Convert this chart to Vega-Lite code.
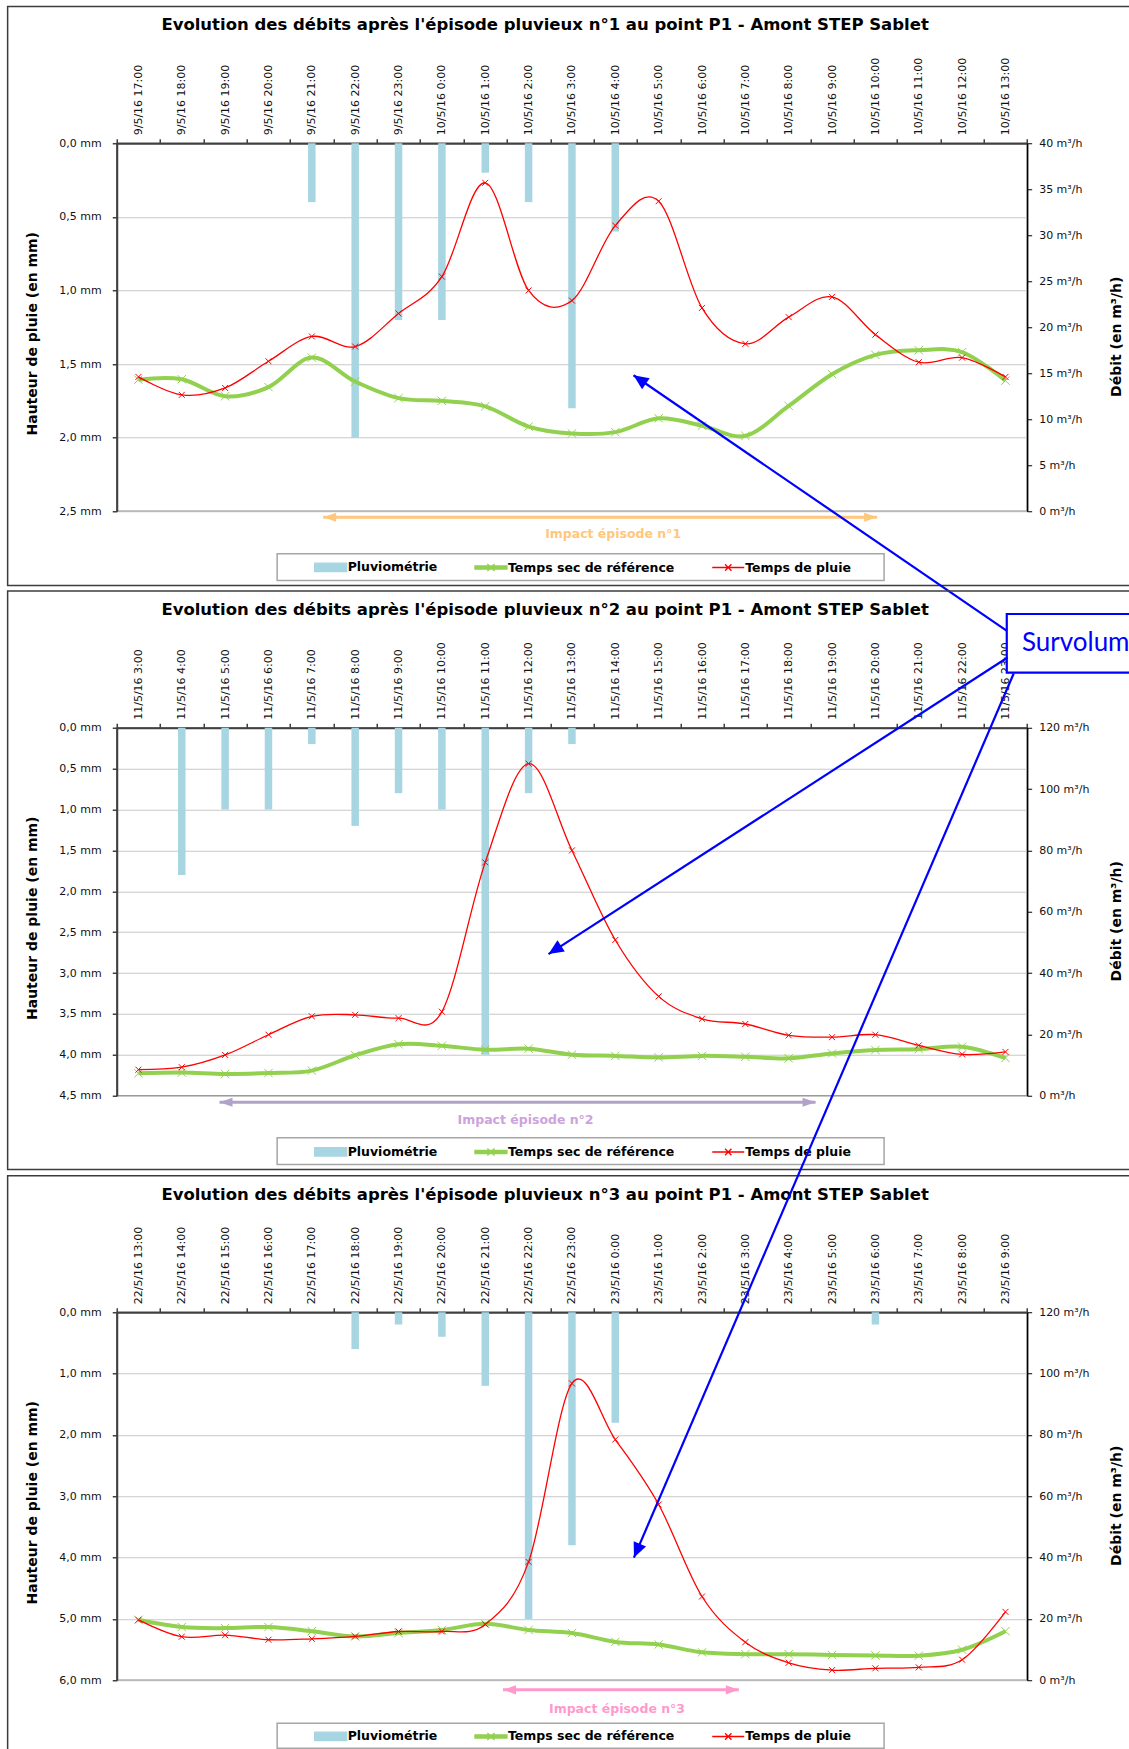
{
  "$schema": "https://vega.github.io/schema/vega-lite/v6.json",
  "padding": {"left": 5.75, "top": 4.25, "right": 0, "bottom": 0},
  "background": "white",
  "spacing": 216.5,
  "bounds": "flush",
  "datasets": {
    "p1": [
      {"i": 0, "t": "9/5/16 17:00", "rain": 0, "sec": 14.3, "pluie": 14.6},
      {"i": 1, "t": "9/5/16 18:00", "rain": 0, "sec": 14.35, "pluie": 12.65},
      {"i": 2, "t": "9/5/16 19:00", "rain": 0, "sec": 12.5, "pluie": 13.4},
      {"i": 3, "t": "9/5/16 20:00", "rain": 0, "sec": 13.5, "pluie": 16.3},
      {"i": 4, "t": "9/5/16 21:00", "rain": 0.4, "sec": 16.7, "pluie": 19.0},
      {"i": 5, "t": "9/5/16 22:00", "rain": 2.0, "sec": 14.1, "pluie": 17.9},
      {"i": 6, "t": "9/5/16 23:00", "rain": 1.2, "sec": 12.3, "pluie": 21.5},
      {"i": 7, "t": "10/5/16 0:00", "rain": 1.2, "sec": 12.0, "pluie": 25.5},
      {"i": 8, "t": "10/5/16 1:00", "rain": 0.2, "sec": 11.4, "pluie": 35.7},
      {"i": 9, "t": "10/5/16 2:00", "rain": 0.4, "sec": 9.2, "pluie": 24.0},
      {"i": 10, "t": "10/5/16 3:00", "rain": 1.8, "sec": 8.45, "pluie": 22.9},
      {"i": 11, "t": "10/5/16 4:00", "rain": 0.6, "sec": 8.6, "pluie": 31.05},
      {"i": 12, "t": "10/5/16 5:00", "rain": 0, "sec": 10.1, "pluie": 33.7},
      {"i": 13, "t": "10/5/16 6:00", "rain": 0, "sec": 9.3, "pluie": 22.1},
      {"i": 14, "t": "10/5/16 7:00", "rain": 0, "sec": 8.2, "pluie": 18.2},
      {"i": 15, "t": "10/5/16 8:00", "rain": 0, "sec": 11.45, "pluie": 21.1},
      {"i": 16, "t": "10/5/16 9:00", "rain": 0, "sec": 14.9, "pluie": 23.3},
      {"i": 17, "t": "10/5/16 10:00", "rain": 0, "sec": 17.0, "pluie": 19.2},
      {"i": 18, "t": "10/5/16 11:00", "rain": 0, "sec": 17.5, "pluie": 16.2},
      {"i": 19, "t": "10/5/16 12:00", "rain": 0, "sec": 17.3, "pluie": 16.7},
      {"i": 20, "t": "10/5/16 13:00", "rain": 0, "sec": 14.2, "pluie": 14.6}
    ],
    "p2": [
      {"i": 0, "t": "11/5/16 3:00", "rain": 0, "sec": 7.3, "pluie": 8.5},
      {"i": 1, "t": "11/5/16 4:00", "rain": 1.8, "sec": 7.55, "pluie": 9.3},
      {"i": 2, "t": "11/5/16 5:00", "rain": 1.0, "sec": 7.1, "pluie": 13.3},
      {"i": 3, "t": "11/5/16 6:00", "rain": 1.0, "sec": 7.4, "pluie": 19.9},
      {"i": 4, "t": "11/5/16 7:00", "rain": 0.2, "sec": 8.2, "pluie": 25.9},
      {"i": 5, "t": "11/5/16 8:00", "rain": 1.2, "sec": 13.2, "pluie": 26.4},
      {"i": 6, "t": "11/5/16 9:00", "rain": 0.8, "sec": 16.8, "pluie": 25.3},
      {"i": 7, "t": "11/5/16 10:00", "rain": 1.0, "sec": 16.3, "pluie": 27.4},
      {"i": 8, "t": "11/5/16 11:00", "rain": 4.0, "sec": 15.0, "pluie": 76.1},
      {"i": 9, "t": "11/5/16 12:00", "rain": 0.8, "sec": 15.35, "pluie": 108.3},
      {"i": 10, "t": "11/5/16 13:00", "rain": 0.2, "sec": 13.4, "pluie": 80.0},
      {"i": 11, "t": "11/5/16 14:00", "rain": 0, "sec": 13.0, "pluie": 50.8},
      {"i": 12, "t": "11/5/16 15:00", "rain": 0, "sec": 12.5, "pluie": 32.4},
      {"i": 13, "t": "11/5/16 16:00", "rain": 0, "sec": 13.0, "pluie": 25.1},
      {"i": 14, "t": "11/5/16 17:00", "rain": 0, "sec": 12.7, "pluie": 23.4},
      {"i": 15, "t": "11/5/16 18:00", "rain": 0, "sec": 12.2, "pluie": 19.7},
      {"i": 16, "t": "11/5/16 19:00", "rain": 0, "sec": 13.8, "pluie": 19.1},
      {"i": 17, "t": "11/5/16 20:00", "rain": 0, "sec": 14.9, "pluie": 19.9},
      {"i": 18, "t": "11/5/16 21:00", "rain": 0, "sec": 15.2, "pluie": 16.4},
      {"i": 19, "t": "11/5/16 22:00", "rain": 0, "sec": 16.0, "pluie": 13.5},
      {"i": 20, "t": "11/5/16 23:00", "rain": 0, "sec": 12.3, "pluie": 14.3}
    ],
    "p3": [
      {"i": 0, "t": "22/5/16 13:00", "rain": 0, "sec": 19.7, "pluie": 19.7},
      {"i": 1, "t": "22/5/16 14:00", "rain": 0, "sec": 17.35, "pluie": 14.2},
      {"i": 2, "t": "22/5/16 15:00", "rain": 0, "sec": 17.0, "pluie": 14.7},
      {"i": 3, "t": "22/5/16 16:00", "rain": 0, "sec": 17.35, "pluie": 13.2},
      {"i": 4, "t": "22/5/16 17:00", "rain": 0, "sec": 16.0, "pluie": 13.5},
      {"i": 5, "t": "22/5/16 18:00", "rain": 0.6, "sec": 14.3, "pluie": 14.3},
      {"i": 6, "t": "22/5/16 19:00", "rain": 0.2, "sec": 15.4, "pluie": 15.9},
      {"i": 7, "t": "22/5/16 20:00", "rain": 0.4, "sec": 16.4, "pluie": 15.9},
      {"i": 8, "t": "22/5/16 21:00", "rain": 1.2, "sec": 18.4, "pluie": 18.2},
      {"i": 9, "t": "22/5/16 22:00", "rain": 5.0, "sec": 16.4, "pluie": 38.6},
      {"i": 10, "t": "22/5/16 23:00", "rain": 3.8, "sec": 15.4, "pluie": 96.8},
      {"i": 11, "t": "23/5/16 0:00", "rain": 1.8, "sec": 12.5, "pluie": 78.5},
      {"i": 12, "t": "23/5/16 1:00", "rain": 0, "sec": 11.65, "pluie": 57.3},
      {"i": 13, "t": "23/5/16 2:00", "rain": 0, "sec": 9.1, "pluie": 27.3},
      {"i": 14, "t": "23/5/16 3:00", "rain": 0, "sec": 8.5, "pluie": 12.4},
      {"i": 15, "t": "23/5/16 4:00", "rain": 0, "sec": 8.5, "pluie": 5.7},
      {"i": 16, "t": "23/5/16 5:00", "rain": 0, "sec": 8.25, "pluie": 3.3},
      {"i": 17, "t": "23/5/16 6:00", "rain": 0.2, "sec": 8.1, "pluie": 3.9},
      {"i": 18, "t": "23/5/16 7:00", "rain": 0, "sec": 8.0, "pluie": 4.2},
      {"i": 19, "t": "23/5/16 8:00", "rain": 0, "sec": 9.95, "pluie": 6.7},
      {"i": 20, "t": "23/5/16 9:00", "rain": 0, "sec": 16.0, "pluie": 22.3}
    ]
  },
  "vconcat": [
    {
      "width": 910.4,
      "height": 368,
      "data": {"name": "p1"},
      "layer": [
        {
          "transform": [{"filter": "datum.rain > 0"}],
          "mark": {"type": "bar", "width": 7.5},
          "encoding": {
            "x": {"field": "i", "type": "quantitative", "scale": {"domain": [-0.5, 20.5], "nice": false, "zero": false, "padding": 0},
              "axis": {"orient": "top", "values": [0,1,2,3,4,5,6,7,8,9,10,11,12,13,14,15,16,17,18,19,20],
                "labelExpr": "['9/5/16 17:00','9/5/16 18:00','9/5/16 19:00','9/5/16 20:00','9/5/16 21:00','9/5/16 22:00','9/5/16 23:00','10/5/16 0:00','10/5/16 1:00','10/5/16 2:00','10/5/16 3:00','10/5/16 4:00','10/5/16 5:00','10/5/16 6:00','10/5/16 7:00','10/5/16 8:00','10/5/16 9:00','10/5/16 10:00','10/5/16 11:00','10/5/16 12:00','10/5/16 13:00'][datum.value]",
                "labelAngle": -90, "labelAlign": "left", "labelBaseline": "middle", "labelPadding": 8.5, "ticks": false, "tickSize": 0, "domain": false, "grid": false, "title": null, "labelOverlap": false, "labelFlush": false, "labelFontSize": 11, "labelColor": "#111111"}},
            "y": {"field": "rain", "type": "quantitative", "scale": {"domain": [0, 2.5], "reverse": true, "nice": false, "zero": false},
              "axis": {"orient": "left", "values": [0, 0.5, 1, 1.5, 2, 2.5], "labelExpr": "replace(format(datum.value, '.1f'), '.', ',') + ' mm'",
                "grid": true, "gridColor": "#C8C8C8", "gridWidth": 1, "domain": true, "domainColor": "#404040", "domainWidth": 2,
                "ticks": true, "tickSize": 4.5, "tickColor": "#404040", "tickWidth": 1.5, "labelPadding": 11, "labelFontSize": 11, "labelColor": "#111111",
                "title": "Hauteur de pluie (en mm)", "titleFontSize": 14, "titleFontWeight": "bold", "titleColor": "#000000",
                "titleAngle": 270, "titleX": -84.6, "titleY": 190, "titleAlign": "center", "titleBaseline": "middle"}},
            "color": {"datum": "Pluviométrie", "type": "nominal",
              "scale": {"domain": ["Pluviométrie", "Temps sec de référence", "Temps de pluie"], "range": ["#A8D5E2", "#92D050", "#FF0000"]},
              "legend": {"orient": "none", "legendX": 196.9, "legendY": 407, "direction": "horizontal", "columns": 3, "columnPadding": 34.3,
                "labelOffset": 0, "symbolSize": 1024, "symbolStrokeWidth": 1.3, "padding": 0, "title": null, "labelFontSize": 12.5, "labelFontWeight": "bold", "labelColor": "#000000", "labelLimit": 400,
                "encode": {"symbols": {"update": {
                  "shape": {"signal": "datum.value === 'Pluviométrie' ? 'M-1,-0.26H1V0.26H-1Z' : (datum.value === 'Temps de pluie' ? 'M-1,0H1M-0.2,-0.2L0.2,0.2M-0.2,0.2L0.2,-0.2' : 'M-1,-0.1H1V0.1H-1ZM-0.22,-0.22L0.22,0.22M-0.22,0.22L0.22,-0.22')"},
                  "fill": {"signal": "datum.value === 'Pluviométrie' ? '#A8D5E2' : (datum.value === 'Temps de pluie' ? 'transparent' : '#92D050')"},
                  "stroke": {"signal": "datum.value === 'Pluviométrie' ? 'transparent' : (datum.value === 'Temps de pluie' ? '#FF0000' : '#92D050')"},
                  "size": {"value": 1024},
                  "opacity": {"value": 1}, "fillOpacity": {"value": 1}, "strokeOpacity": {"value": 1}}}}}}
          }
        },
        {
          "layer": [
            {
              "mark": {"type": "line", "interpolate": "cardinal", "strokeWidth": 4,
                "point": {"shape": "M-1,-1L1,1M-1,1L1,-1", "filled": false, "size": 70, "strokeWidth": 1, "opacity": 1}},
              "encoding": {
                "x": {"field": "i", "type": "quantitative", "scale": {"domain": [-0.5, 20.5], "nice": false, "zero": false, "padding": 0},
                  "axis": {"orient": "top", "values": [-0.5,0.5,1.5,2.5,3.5,4.5,5.5,6.5,7.5,8.5,9.5,10.5,11.5,12.5,13.5,14.5,15.5,16.5,17.5,18.5,19.5,20.5],
                    "labels": false, "ticks": true, "tickSize": 4.5, "tickColor": "#404040", "tickWidth": 1.5, "domain": true, "domainColor": "#404040", "domainWidth": 2, "grid": false, "title": null}},
                "y": {"field": "sec", "type": "quantitative", "scale": {"domain": [0, 40], "nice": false, "zero": false},
                  "axis": {"orient": "right", "values": [0,5,10,15,20,25,30,35,40], "labelExpr": "datum.value + ' m³/h'", "grid": false,
                    "domainColor": "#000000", "domainWidth": 1.5, "tickSize": 4.5, "tickColor": "#000000", "labelPadding": 7, "labelFontSize": 11, "labelColor": "#111111",
                    "title": "Débit (en m³/h)", "titleFontSize": 14, "titleFontWeight": "bold", "titleColor": "#000000",
                    "titleAngle": 270, "titleX": 89.6, "titleY": 193, "titleAlign": "center", "titleBaseline": "middle"}},
                "color": {"datum": "Temps sec de référence", "type": "nominal"}
              }
            },
            {
              "mark": {"type": "line", "interpolate": "cardinal", "strokeWidth": 1.3,
                "point": {"shape": "M-1,-1L1,1M-1,1L1,-1", "filled": false, "size": 36, "strokeWidth": 1, "opacity": 1}},
              "encoding": {
                "x": {"field": "i", "type": "quantitative"},
                "y": {"field": "pluie", "type": "quantitative"},
                "color": {"datum": "Temps de pluie", "type": "nominal"}
              }
            },
            {
              "data": {"values": [{}]},
              "mark": {"type": "rect", "fill": "transparent", "stroke": "#3C3C3C", "strokeWidth": 1.5},
              "encoding": {"x": {"datum": -3.017, "type": "quantitative"}, "x2": {"datum": 23.13}, "y": {"datum": 54.86, "type": "quantitative"}, "y2": {"datum": -8.08}}
            },
            {
              "data": {"values": [{}]},
              "mark": {"type": "rect", "fill": "transparent", "stroke": "#A6A6A6", "strokeWidth": 1.5},
              "encoding": {"x": {"datum": 3.2, "type": "quantitative"}, "x2": {"datum": 17.2}, "y": {"datum": -4.63, "type": "quantitative"}, "y2": {"datum": -7.53}}
            },
            {
              "data": {"values": [{}]},
              "mark": {"type": "rule", "color": "#FFC77D", "strokeWidth": 3},
              "encoding": {"x": {"datum": 4.26, "type": "quantitative"}, "x2": {"datum": 17.04}, "y": {"datum": -0.65, "type": "quantitative"}}
            },
            {
              "data": {"values": [{}]},
              "mark": {"type": "point", "shape": "M0,0L-0.35,1L0.35,1Z", "filled": true, "size": 676, "angle": 270, "color": "#FFC77D", "opacity": 1},
              "encoding": {"x": {"datum": 4.26, "type": "quantitative"}, "y": {"datum": -0.65, "type": "quantitative"}}
            },
            {
              "data": {"values": [{}]},
              "mark": {"type": "point", "shape": "M0,0L-0.35,1L0.35,1Z", "filled": true, "size": 676, "angle": 90, "color": "#FFC77D", "opacity": 1},
              "encoding": {"x": {"datum": 17.04, "type": "quantitative"}, "y": {"datum": -0.65, "type": "quantitative"}}
            },
            {
              "data": {"values": [{}]},
              "mark": {"type": "text", "fontSize": 12.5, "fontWeight": "bold", "color": "#FFC77D", "align": "center", "baseline": "alphabetic"},
              "encoding": {"x": {"datum": 10.95, "type": "quantitative"}, "y": {"datum": -2.93, "type": "quantitative"}, "text": {"value": "Impact épisode  n°1"}}
            },
            {
              "data": {"values": [{}]},
              "mark": {"type": "text", "fontSize": 16.5, "fontWeight": "bold", "color": "#000000", "align": "center", "baseline": "alphabetic"},
              "encoding": {"x": {"datum": 9.38, "type": "quantitative"}, "y": {"datum": 52.3, "type": "quantitative"}, "text": {"value": "Evolution des débits après l'épisode pluvieux n°1 au point P1 - Amont STEP Sablet"}}
            },
            {
              "data": {"values": [{}]},
              "mark": {"type": "rule", "color": "#0000FF", "strokeWidth": 2.2},
              "encoding": {"x": {"datum": 11.42, "type": "quantitative"}, "x2": {"datum": 20.05}, "y": {"datum": 14.78, "type": "quantitative"}, "y2": {"datum": -13.05}}
            },
            {
              "data": {"values": [{}]},
              "mark": {"type": "point", "shape": "M0,0L-0.45,1L0.45,1Z", "filled": true, "size": 900, "angle": 304.4, "color": "#0000FF", "opacity": 1},
              "encoding": {"x": {"datum": 11.42, "type": "quantitative"}, "y": {"datum": 14.78, "type": "quantitative"}}
            }
          ]
        }
      ],
      "resolve": {"scale": {"y": "independent"}, "axis": {"x": "independent"}}
    },
    {
      "width": 910.4,
      "height": 368,
      "data": {"name": "p2"},
      "layer": [
        {
          "transform": [{"filter": "datum.rain > 0"}],
          "mark": {"type": "bar", "width": 7.5},
          "encoding": {
            "x": {"field": "i", "type": "quantitative", "scale": {"domain": [-0.5, 20.5], "nice": false, "zero": false, "padding": 0},
              "axis": {"orient": "top", "values": [0,1,2,3,4,5,6,7,8,9,10,11,12,13,14,15,16,17,18,19,20],
                "labelExpr": "['11/5/16 3:00','11/5/16 4:00','11/5/16 5:00','11/5/16 6:00','11/5/16 7:00','11/5/16 8:00','11/5/16 9:00','11/5/16 10:00','11/5/16 11:00','11/5/16 12:00','11/5/16 13:00','11/5/16 14:00','11/5/16 15:00','11/5/16 16:00','11/5/16 17:00','11/5/16 18:00','11/5/16 19:00','11/5/16 20:00','11/5/16 21:00','11/5/16 22:00','11/5/16 23:00'][datum.value]",
                "labelAngle": -90, "labelAlign": "left", "labelBaseline": "middle", "labelPadding": 8.5, "ticks": false, "tickSize": 0, "domain": false, "grid": false, "title": null, "labelOverlap": false, "labelFlush": false, "labelFontSize": 11, "labelColor": "#111111"}},
            "y": {"field": "rain", "type": "quantitative", "scale": {"domain": [0, 4.5], "reverse": true, "nice": false, "zero": false},
              "axis": {"orient": "left", "values": [0, 0.5, 1, 1.5, 2, 2.5, 3, 3.5, 4, 4.5], "labelExpr": "replace(format(datum.value, '.1f'), '.', ',') + ' mm'",
                "grid": true, "gridColor": "#C8C8C8", "gridWidth": 1, "domain": true, "domainColor": "#404040", "domainWidth": 2,
                "ticks": true, "tickSize": 4.5, "tickColor": "#404040", "tickWidth": 1.5, "labelPadding": 11, "labelFontSize": 11, "labelColor": "#111111",
                "title": "Hauteur de pluie (en mm)", "titleFontSize": 14, "titleFontWeight": "bold", "titleColor": "#000000",
                "titleAngle": 270, "titleX": -84.6, "titleY": 190, "titleAlign": "center", "titleBaseline": "middle"}},
            "color": {"datum": "Pluviométrie", "type": "nominal",
              "scale": {"domain": ["Pluviométrie", "Temps sec de référence", "Temps de pluie"], "range": ["#A8D5E2", "#92D050", "#FF0000"]},
              "legend": {"orient": "none", "legendX": 196.9, "legendY": 407, "direction": "horizontal", "columns": 3, "columnPadding": 34.3,
                "labelOffset": 0, "symbolSize": 1024, "symbolStrokeWidth": 1.3, "padding": 0, "title": null, "labelFontSize": 12.5, "labelFontWeight": "bold", "labelColor": "#000000", "labelLimit": 400,
                "encode": {"symbols": {"update": {
                  "shape": {"signal": "datum.value === 'Pluviométrie' ? 'M-1,-0.26H1V0.26H-1Z' : (datum.value === 'Temps de pluie' ? 'M-1,0H1M-0.2,-0.2L0.2,0.2M-0.2,0.2L0.2,-0.2' : 'M-1,-0.1H1V0.1H-1ZM-0.22,-0.22L0.22,0.22M-0.22,0.22L0.22,-0.22')"},
                  "fill": {"signal": "datum.value === 'Pluviométrie' ? '#A8D5E2' : (datum.value === 'Temps de pluie' ? 'transparent' : '#92D050')"},
                  "stroke": {"signal": "datum.value === 'Pluviométrie' ? 'transparent' : (datum.value === 'Temps de pluie' ? '#FF0000' : '#92D050')"},
                  "size": {"value": 1024},
                  "opacity": {"value": 1}, "fillOpacity": {"value": 1}, "strokeOpacity": {"value": 1}}}}}}
          }
        },
        {
          "layer": [
            {
              "mark": {"type": "line", "interpolate": "cardinal", "strokeWidth": 4,
                "point": {"shape": "M-1,-1L1,1M-1,1L1,-1", "filled": false, "size": 70, "strokeWidth": 1, "opacity": 1}},
              "encoding": {
                "x": {"field": "i", "type": "quantitative", "scale": {"domain": [-0.5, 20.5], "nice": false, "zero": false, "padding": 0},
                  "axis": {"orient": "top", "values": [-0.5,0.5,1.5,2.5,3.5,4.5,5.5,6.5,7.5,8.5,9.5,10.5,11.5,12.5,13.5,14.5,15.5,16.5,17.5,18.5,19.5,20.5],
                    "labels": false, "ticks": true, "tickSize": 4.5, "tickColor": "#404040", "tickWidth": 1.5, "domain": true, "domainColor": "#404040", "domainWidth": 2, "grid": false, "title": null}},
                "y": {"field": "sec", "type": "quantitative", "scale": {"domain": [0, 120], "nice": false, "zero": false},
                  "axis": {"orient": "right", "values": [0,20,40,60,80,100,120], "labelExpr": "datum.value + ' m³/h'", "grid": false,
                    "domainColor": "#000000", "domainWidth": 1.5, "tickSize": 4.5, "tickColor": "#000000", "labelPadding": 7, "labelFontSize": 11, "labelColor": "#111111",
                    "title": "Débit (en m³/h)", "titleFontSize": 14, "titleFontWeight": "bold", "titleColor": "#000000",
                    "titleAngle": 270, "titleX": 89.6, "titleY": 193, "titleAlign": "center", "titleBaseline": "middle"}},
                "color": {"datum": "Temps sec de référence", "type": "nominal"}
              }
            },
            {
              "mark": {"type": "line", "interpolate": "cardinal", "strokeWidth": 1.3,
                "point": {"shape": "M-1,-1L1,1M-1,1L1,-1", "filled": false, "size": 36, "strokeWidth": 1, "opacity": 1}},
              "encoding": {
                "x": {"field": "i", "type": "quantitative"},
                "y": {"field": "pluie", "type": "quantitative"},
                "color": {"datum": "Temps de pluie", "type": "nominal"}
              }
            },
            {
              "data": {"values": [{}]},
              "mark": {"type": "rect", "fill": "transparent", "stroke": "#3C3C3C", "strokeWidth": 1.5},
              "encoding": {"x": {"datum": -3.017, "type": "quantitative"}, "x2": {"datum": 23.13}, "y": {"datum": 164.6, "type": "quantitative"}, "y2": {"datum": -24.07}}
            },
            {
              "data": {"values": [{}]},
              "mark": {"type": "rect", "fill": "transparent", "stroke": "#A6A6A6", "strokeWidth": 1.5},
              "encoding": {"x": {"datum": 3.2, "type": "quantitative"}, "x2": {"datum": 17.2}, "y": {"datum": -13.7, "type": "quantitative"}, "y2": {"datum": -22.4}}
            },
            {
              "data": {"values": [{}]},
              "mark": {"type": "rule", "color": "#B3A2C7", "strokeWidth": 3},
              "encoding": {"x": {"datum": 1.87, "type": "quantitative"}, "x2": {"datum": 15.62}, "y": {"datum": -2.12, "type": "quantitative"}}
            },
            {
              "data": {"values": [{}]},
              "mark": {"type": "point", "shape": "M0,0L-0.35,1L0.35,1Z", "filled": true, "size": 676, "angle": 270, "color": "#B3A2C7", "opacity": 1},
              "encoding": {"x": {"datum": 1.87, "type": "quantitative"}, "y": {"datum": -2.12, "type": "quantitative"}}
            },
            {
              "data": {"values": [{}]},
              "mark": {"type": "point", "shape": "M0,0L-0.35,1L0.35,1Z", "filled": true, "size": 676, "angle": 90, "color": "#B3A2C7", "opacity": 1},
              "encoding": {"x": {"datum": 15.62, "type": "quantitative"}, "y": {"datum": -2.12, "type": "quantitative"}}
            },
            {
              "data": {"values": [{}]},
              "mark": {"type": "text", "fontSize": 12.5, "fontWeight": "bold", "color": "#CCA3DC", "align": "center", "baseline": "alphabetic"},
              "encoding": {"x": {"datum": 8.93, "type": "quantitative"}, "y": {"datum": -9.16, "type": "quantitative"}, "text": {"value": "Impact épisode  n°2"}}
            },
            {
              "data": {"values": [{}]},
              "mark": {"type": "text", "fontSize": 16.5, "fontWeight": "bold", "color": "#000000", "align": "center", "baseline": "alphabetic"},
              "encoding": {"x": {"datum": 9.38, "type": "quantitative"}, "y": {"datum": 156.9, "type": "quantitative"}, "text": {"value": "Evolution des débits après l'épisode pluvieux n°2 au point P1 - Amont STEP Sablet"}}
            },
            {
              "data": {"values": [{}]},
              "mark": {"type": "rect", "fill": "#FFFFFF", "stroke": "#0000FF", "strokeWidth": 2.2},
              "encoding": {"x": {"datum": 20.03, "type": "quantitative"}, "x2": {"datum": 23.13}, "y": {"datum": 157.1, "type": "quantitative"}, "y2": {"datum": 138.0}}
            },
            {
              "data": {"values": [{}]},
              "mark": {"type": "text", "font": "Lato", "fontSize": 26, "color": "#0000FF", "align": "left", "baseline": "alphabetic"},
              "encoding": {"x": {"datum": 20.38, "type": "quantitative"}, "y": {"datum": 145.1, "type": "quantitative"}, "text": {"value": "Survolum"}}
            },
            {
              "data": {"values": [{}]},
              "mark": {"type": "rule", "color": "#0000FF", "strokeWidth": 2.2},
              "encoding": {"x": {"datum": 9.46, "type": "quantitative"}, "x2": {"datum": 20.05}, "y": {"datum": 46.2, "type": "quantitative"}, "y2": {"datum": 142.9}}
            },
            {
              "data": {"values": [{}]},
              "mark": {"type": "point", "shape": "M0,0L-0.45,1L0.45,1Z", "filled": true, "size": 900, "angle": 237.1, "color": "#0000FF", "opacity": 1},
              "encoding": {"x": {"datum": 9.46, "type": "quantitative"}, "y": {"datum": 46.2, "type": "quantitative"}}
            }
          ]
        }
      ],
      "resolve": {"scale": {"y": "independent"}, "axis": {"x": "independent"}}
    },
    {
      "width": 910.4,
      "height": 368,
      "data": {"name": "p3"},
      "layer": [
        {
          "transform": [{"filter": "datum.rain > 0"}],
          "mark": {"type": "bar", "width": 7.5},
          "encoding": {
            "x": {"field": "i", "type": "quantitative", "scale": {"domain": [-0.5, 20.5], "nice": false, "zero": false, "padding": 0},
              "axis": {"orient": "top", "values": [0,1,2,3,4,5,6,7,8,9,10,11,12,13,14,15,16,17,18,19,20],
                "labelExpr": "['22/5/16 13:00','22/5/16 14:00','22/5/16 15:00','22/5/16 16:00','22/5/16 17:00','22/5/16 18:00','22/5/16 19:00','22/5/16 20:00','22/5/16 21:00','22/5/16 22:00','22/5/16 23:00','23/5/16 0:00','23/5/16 1:00','23/5/16 2:00','23/5/16 3:00','23/5/16 4:00','23/5/16 5:00','23/5/16 6:00','23/5/16 7:00','23/5/16 8:00','23/5/16 9:00'][datum.value]",
                "labelAngle": -90, "labelAlign": "left", "labelBaseline": "middle", "labelPadding": 8.5, "ticks": false, "tickSize": 0, "domain": false, "grid": false, "title": null, "labelOverlap": false, "labelFlush": false, "labelFontSize": 11, "labelColor": "#111111"}},
            "y": {"field": "rain", "type": "quantitative", "scale": {"domain": [0, 6], "reverse": true, "nice": false, "zero": false},
              "axis": {"orient": "left", "values": [0, 1, 2, 3, 4, 5, 6], "labelExpr": "replace(format(datum.value, '.1f'), '.', ',') + ' mm'",
                "grid": true, "gridColor": "#C8C8C8", "gridWidth": 1, "domain": true, "domainColor": "#404040", "domainWidth": 2,
                "ticks": true, "tickSize": 4.5, "tickColor": "#404040", "tickWidth": 1.5, "labelPadding": 11, "labelFontSize": 11, "labelColor": "#111111",
                "title": "Hauteur de pluie (en mm)", "titleFontSize": 14, "titleFontWeight": "bold", "titleColor": "#000000",
                "titleAngle": 270, "titleX": -84.6, "titleY": 190, "titleAlign": "center", "titleBaseline": "middle"}},
            "color": {"datum": "Pluviométrie", "type": "nominal",
              "scale": {"domain": ["Pluviométrie", "Temps sec de référence", "Temps de pluie"], "range": ["#A8D5E2", "#92D050", "#FF0000"]},
              "legend": {"orient": "none", "legendX": 196.9, "legendY": 407, "direction": "horizontal", "columns": 3, "columnPadding": 34.3,
                "labelOffset": 0, "symbolSize": 1024, "symbolStrokeWidth": 1.3, "padding": 0, "title": null, "labelFontSize": 12.5, "labelFontWeight": "bold", "labelColor": "#000000", "labelLimit": 400,
                "encode": {"symbols": {"update": {
                  "shape": {"signal": "datum.value === 'Pluviométrie' ? 'M-1,-0.26H1V0.26H-1Z' : (datum.value === 'Temps de pluie' ? 'M-1,0H1M-0.2,-0.2L0.2,0.2M-0.2,0.2L0.2,-0.2' : 'M-1,-0.1H1V0.1H-1ZM-0.22,-0.22L0.22,0.22M-0.22,0.22L0.22,-0.22')"},
                  "fill": {"signal": "datum.value === 'Pluviométrie' ? '#A8D5E2' : (datum.value === 'Temps de pluie' ? 'transparent' : '#92D050')"},
                  "stroke": {"signal": "datum.value === 'Pluviométrie' ? 'transparent' : (datum.value === 'Temps de pluie' ? '#FF0000' : '#92D050')"},
                  "size": {"value": 1024},
                  "opacity": {"value": 1}, "fillOpacity": {"value": 1}, "strokeOpacity": {"value": 1}}}}}}
          }
        },
        {
          "layer": [
            {
              "mark": {"type": "line", "interpolate": "cardinal", "strokeWidth": 4,
                "point": {"shape": "M-1,-1L1,1M-1,1L1,-1", "filled": false, "size": 70, "strokeWidth": 1, "opacity": 1}},
              "encoding": {
                "x": {"field": "i", "type": "quantitative", "scale": {"domain": [-0.5, 20.5], "nice": false, "zero": false, "padding": 0},
                  "axis": {"orient": "top", "values": [-0.5,0.5,1.5,2.5,3.5,4.5,5.5,6.5,7.5,8.5,9.5,10.5,11.5,12.5,13.5,14.5,15.5,16.5,17.5,18.5,19.5,20.5],
                    "labels": false, "ticks": true, "tickSize": 4.5, "tickColor": "#404040", "tickWidth": 1.5, "domain": true, "domainColor": "#404040", "domainWidth": 2, "grid": false, "title": null}},
                "y": {"field": "sec", "type": "quantitative", "scale": {"domain": [0, 120], "nice": false, "zero": false},
                  "axis": {"orient": "right", "values": [0,20,40,60,80,100,120], "labelExpr": "datum.value + ' m³/h'", "grid": false,
                    "domainColor": "#000000", "domainWidth": 1.5, "tickSize": 4.5, "tickColor": "#000000", "labelPadding": 7, "labelFontSize": 11, "labelColor": "#111111",
                    "title": "Débit (en m³/h)", "titleFontSize": 14, "titleFontWeight": "bold", "titleColor": "#000000",
                    "titleAngle": 270, "titleX": 89.6, "titleY": 193, "titleAlign": "center", "titleBaseline": "middle"}},
                "color": {"datum": "Temps sec de référence", "type": "nominal"}
              }
            },
            {
              "mark": {"type": "line", "interpolate": "cardinal", "strokeWidth": 1.3,
                "point": {"shape": "M-1,-1L1,1M-1,1L1,-1", "filled": false, "size": 36, "strokeWidth": 1, "opacity": 1}},
              "encoding": {
                "x": {"field": "i", "type": "quantitative"},
                "y": {"field": "pluie", "type": "quantitative"},
                "color": {"datum": "Temps de pluie", "type": "nominal"}
              }
            },
            {
              "data": {"values": [{}]},
              "mark": {"type": "rect", "fill": "transparent", "stroke": "#3C3C3C", "strokeWidth": 1.5},
              "encoding": {"x": {"datum": -3.017, "type": "quantitative"}, "x2": {"datum": 23.13}, "y": {"datum": 164.5, "type": "quantitative"}, "y2": {"datum": -25.2}}
            },
            {
              "data": {"values": [{}]},
              "mark": {"type": "rect", "fill": "transparent", "stroke": "#A6A6A6", "strokeWidth": 1.5},
              "encoding": {"x": {"datum": 3.2, "type": "quantitative"}, "x2": {"datum": 17.2}, "y": {"datum": -14.05, "type": "quantitative"}, "y2": {"datum": -22.17}}
            },
            {
              "data": {"values": [{}]},
              "mark": {"type": "rule", "color": "#FF99CC", "strokeWidth": 3},
              "encoding": {"x": {"datum": 8.41, "type": "quantitative"}, "x2": {"datum": 13.85}, "y": {"datum": -3.13, "type": "quantitative"}}
            },
            {
              "data": {"values": [{}]},
              "mark": {"type": "point", "shape": "M0,0L-0.35,1L0.35,1Z", "filled": true, "size": 676, "angle": 270, "color": "#FF99CC", "opacity": 1},
              "encoding": {"x": {"datum": 8.41, "type": "quantitative"}, "y": {"datum": -3.13, "type": "quantitative"}}
            },
            {
              "data": {"values": [{}]},
              "mark": {"type": "point", "shape": "M0,0L-0.35,1L0.35,1Z", "filled": true, "size": 676, "angle": 90, "color": "#FF99CC", "opacity": 1},
              "encoding": {"x": {"datum": 13.85, "type": "quantitative"}, "y": {"datum": -3.13, "type": "quantitative"}}
            },
            {
              "data": {"values": [{}]},
              "mark": {"type": "text", "fontSize": 12.5, "fontWeight": "bold", "color": "#FF99CC", "align": "center", "baseline": "alphabetic"},
              "encoding": {"x": {"datum": 11.04, "type": "quantitative"}, "y": {"datum": -10.76, "type": "quantitative"}, "text": {"value": "Impact épisode n°3"}}
            },
            {
              "data": {"values": [{}]},
              "mark": {"type": "text", "fontSize": 16.5, "fontWeight": "bold", "color": "#000000", "align": "center", "baseline": "alphabetic"},
              "encoding": {"x": {"datum": 9.38, "type": "quantitative"}, "y": {"datum": 156.6, "type": "quantitative"}, "text": {"value": "Evolution des débits après l'épisode pluvieux n°3 au point P1 - Amont STEP Sablet"}}
            },
            {
              "data": {"values": [{}]},
              "mark": {"type": "rule", "color": "#0000FF", "strokeWidth": 2.2},
              "encoding": {"x": {"datum": 11.43, "type": "quantitative"}, "x2": {"datum": 20.19}, "y": {"datum": 40.0, "type": "quantitative"}, "y2": {"datum": 328.3}}
            },
            {
              "data": {"values": [{}]},
              "mark": {"type": "point", "shape": "M0,0L-0.45,1L0.45,1Z", "filled": true, "size": 900, "angle": 203.3, "color": "#0000FF", "opacity": 1},
              "encoding": {"x": {"datum": 11.43, "type": "quantitative"}, "y": {"datum": 40.0, "type": "quantitative"}}
            }
          ]
        }
      ],
      "resolve": {"scale": {"y": "independent"}, "axis": {"x": "independent"}}
    }
  ],
  "resolve": {"scale": {"x": "independent", "y": "independent", "color": "independent"}, "legend": {"color": "independent"}},
  "config": {
    "font": "DejaVu Sans",
    "view": {"stroke": "#8C8C8C", "strokeWidth": 1.5},
    "axis": {"labelFont": "DejaVu Sans", "titleFont": "DejaVu Sans"},
    "legend": {"labelFont": "DejaVu Sans"},
    "text": {"font": "DejaVu Sans"}
  }
}
